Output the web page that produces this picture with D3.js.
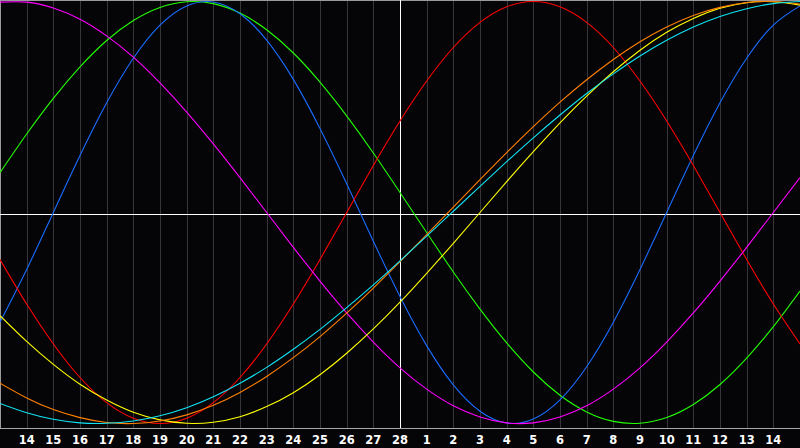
<!DOCTYPE html>
<html>
<head>
<meta charset="utf-8">
<script src="https://cdn.jsdelivr.net/npm/d3@7"></script>
<style>
html,body{margin:0;padding:0;background:#050508;}
svg{display:block;}
</style>
</head>
<body>
<svg id="chart" width="800" height="448"></svg>
<script>
// Day labels for positions 0..30 (only 1..29 are drawn as ticks)
const dayLabels = [13,14,15,16,17,18,19,20,21,22,23,24,25,26,27,28,1,2,3,4,5,6,7,8,9,10,11,12,13,14,15];
const todayIndex = 15;

// Cycle values read at each day position (0..30)
const physical = [-0.520,-0.270,0,0.270,0.520,0.731,0.888,0.979,0.998,0.942,0.817,0.631,0.398,0.136,-0.136,-0.398,-0.631,-0.817,-0.942,-0.998,-0.979,-0.888,-0.731,-0.520,-0.270,0,0.270,0.520,0.731,0.888,0.979];
const emotional = [-0.223,-0.434,-0.623,-0.782,-0.901,-0.975,-1,-0.975,-0.901,-0.782,-0.623,-0.434,-0.223,0,0.223,0.434,0.623,0.782,0.901,0.975,1,0.975,0.901,0.782,0.623,0.434,0.223,0,-0.223,-0.434,-0.623];
const intellectual = [0.189,0.372,0.541,0.690,0.815,0.910,0.972,0.999,0.990,0.945,0.866,0.756,0.618,0.458,0.282,0.095,-0.095,-0.282,-0.458,-0.618,-0.756,-0.866,-0.945,-0.990,-0.999,-0.972,-0.910,-0.815,-0.690,-0.541,-0.372];
const intuitive = [0.997,0.997,0.969,0.916,0.837,0.736,0.614,0.476,0.325,0.165,0,-0.165,-0.325,-0.476,-0.614,-0.736,-0.837,-0.916,-0.969,-0.997,-0.997,-0.969,-0.916,-0.837,-0.736,-0.614,-0.476,-0.325,-0.165,0,0.165];
const aesthetic = [-0.489,-0.611,-0.720,-0.814,-0.889,-0.947,-0.983,-0.999,-0.994,-0.968,-0.920,-0.854,-0.769,-0.667,-0.552,-0.425,-0.288,-0.146,0,0.146,0.288,0.425,0.552,0.667,0.769,0.854,0.920,0.968,0.994,0.999,0.983];
const awareness = [-0.809,-0.879,-0.934,-0.972,-0.995,-1.000,-0.988,-0.959,-0.914,-0.853,-0.777,-0.688,-0.588,-0.477,-0.358,-0.233,-0.105,0.026,0.156,0.284,0.407,0.523,0.629,0.725,0.809,0.879,0.934,0.972,0.995,1.000,0.988];
const spiritual = [-0.905,-0.949,-0.980,-0.997,-0.999,-0.988,-0.963,-0.925,-0.873,-0.809,-0.734,-0.648,-0.554,-0.451,-0.343,-0.229,-0.112,0.006,0.124,0.241,0.354,0.462,0.564,0.657,0.742,0.816,0.879,0.929,0.966,0.990,1.000];

const seriesNames = ["intellectual","physical","emotional","intuitive","aesthetic","awareness","spiritual"];
const seriesValues = [intellectual, physical, emotional, intuitive, aesthetic, awareness, spiritual];
const seriesColors = ["#22ff00","#1a6cff","#ff0000","#ff00ff","#ffff00","#ff8000","#10e4f4"];

const W = 800, H = 448;
const svg = d3.select("#chart");

const x = d3.scaleLinear().domain([0, 30]).range([0, 800]);
const y = d3.scaleLinear().domain([-1, 1]).range([423.5, 1.5]);

svg.append("rect").attr("x",0).attr("y",0).attr("width",W).attr("height",H).attr("fill","#050508");

// vertical grid lines
const gridIdx = d3.range(1, 30).filter(i => i !== todayIndex);
svg.append("g").selectAll("line").data(gridIdx).join("line")
  .attr("x1", i => Math.round(x(i)) + 0.5).attr("x2", i => Math.round(x(i)) + 0.5)
  .attr("y1", 0).attr("y2", 428)
  .attr("stroke", "#36363a").attr("stroke-width", 1)
  .attr("shape-rendering", "crispEdges");

// frame (top, left) and bottom axis line
svg.append("line").attr("x1",0).attr("x2",W).attr("y1",0.5).attr("y2",0.5)
  .attr("stroke","#9a9a9a").attr("shape-rendering","crispEdges");
svg.append("line").attr("x1",0.5).attr("x2",0.5).attr("y1",0).attr("y2",429)
  .attr("stroke","#9a9a9a").attr("shape-rendering","crispEdges");
svg.append("line").attr("x1",0).attr("x2",W).attr("y1",428.5).attr("y2",428.5)
  .attr("stroke","#a8a8a8").attr("shape-rendering","crispEdges");

// midline and today line
svg.append("line").attr("x1",0).attr("x2",W).attr("y1",214.5).attr("y2",214.5)
  .attr("stroke","#ffffff").attr("shape-rendering","crispEdges");
svg.append("line").attr("x1",Math.round(x(todayIndex))+0.5).attr("x2",Math.round(x(todayIndex))+0.5)
  .attr("y1",0).attr("y2",428)
  .attr("stroke","#ffffff").attr("shape-rendering","crispEdges");

// curves
const line = d3.line()
  .x((d, i) => x(i))
  .y(d => y(d))
  .curve(d3.curveNatural);

svg.append("g").selectAll("path").data(seriesValues).join("path")
  .attr("d", d => line(d))
  .attr("fill", "none")
  .attr("stroke", (d, i) => seriesColors[i])
  .attr("stroke-width", 1.1);

// day labels
const labelIdx = d3.range(1, 30);
svg.append("g").selectAll("text").data(labelIdx).join("text")
  .attr("x", i => x(i))
  .attr("y", 443.5)
  .attr("text-anchor", "middle")
  .attr("fill", "#ffffff")
  .attr("font-family", "'DejaVu Sans', sans-serif")
  .attr("font-weight", "bold")
  .attr("font-size", "11.5px")
  .text(i => dayLabels[i]);
</script>
</body>
</html>
